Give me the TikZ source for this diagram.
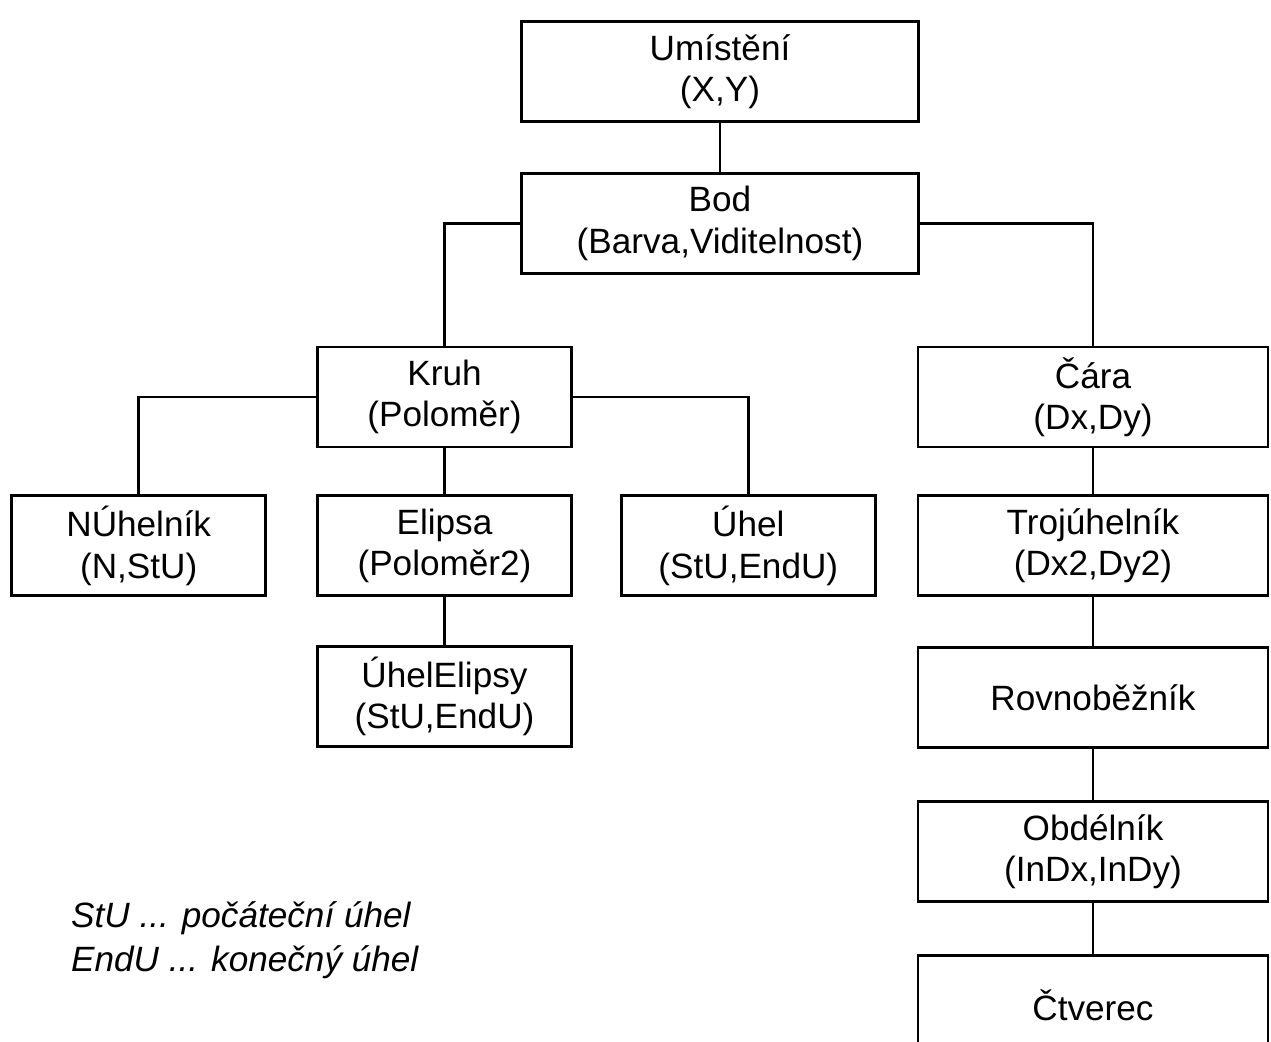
\documentclass[tikz,border=0pt]{standalone}
\usepackage{fontspec}
\setmainfont{Liberation Sans}
\usepackage{tikz}
\usetikzlibrary{positioning}
\newcommand{\trfont}{\fontsize{20}{23.5}\selectfont}
\newcommand{\legfont}{\fontsize{20}{25}\selectfont\itshape}
\tikzset{
  trida/.style={draw, line width=1.6pt, align=center, minimum height=20mm, inner sep=2pt, font=\trfont},
  siroka/.style={trida, minimum width=79.4mm},
  uzka/.style={trida, minimum width=50.8mm},
  prava/.style={trida, minimum width=70mm},
  spoj/.style={line width=1.6pt}
}
\begin{document}
\begin{tikzpicture}[x=0.2mm, y=0.2mm]
            \useasboundingbox (0,0) rectangle (1271,-1042);

            \node (umisteni) [siroka] at (720,-71.5) {Umístění\\(X,Y)};
            \node (bod) [siroka, below=9.8mm of umisteni] {Bod\\(Barva,Viditelnost)};
            \node (kruh) [uzka] at (444.5,-397) {Kruh\\(Poloměr)};
            \node (cara) [prava] at (1093,-397) {Čára\\(Dx,Dy)};

            \node (elipsa) [uzka, below=9.2mm of kruh] {Elipsa\\(Poloměr2)};
            \node (nuhelnik) [uzka, left=9.8mm of elipsa] {NÚhelník\\(N,StU)};
            \node (uhel) [uzka, right=9.4mm of elipsa] {Úhel\\(StU,EndU)};
            \node (uhelelipsy) [uzka, below=9.6mm of elipsa] {ÚhelElipsy\\(StU,EndU)};

            \node (trojuhelnik) [prava, below=9.2mm of cara] {Trojúhelník\\(Dx2,Dy2)};
            \node (rovnobeznik) [prava, below=9.8mm of trojuhelnik] {Rovnoběžník};
            \node (obdelnik) [prava, below=10.2mm of rovnobeznik] {Obdélník\\(InDx,InDy)};
            \node (ctverec) [prava, below=10.2mm of obdelnik] {Čtverec};

            % vysvetlivky
            \node (legenda) [anchor=west, align=left, font=\legfont] at (65,-940) {StU ... počáteční úhel\\EndU ... konečný úhel};

            \draw[spoj] (umisteni) -- (bod);
            \draw[spoj] (bod.west) -| (kruh.north);
            \draw[spoj] (bod.east) -| (cara.north);
            \draw[spoj] (kruh.west) -| (nuhelnik.north);
            \draw[spoj] (kruh) -- (elipsa);
            \draw[spoj] (kruh.east) -| (uhel.north);
            \draw[spoj] (elipsa) -- (uhelelipsy);
            \draw[spoj] (cara) -- (trojuhelnik);
            \draw[spoj] (trojuhelnik) -- (rovnobeznik);
            \draw[spoj] (rovnobeznik) -- (obdelnik);
            \draw[spoj] (obdelnik) -- (ctverec);

      \end{tikzpicture}
\end{document}
